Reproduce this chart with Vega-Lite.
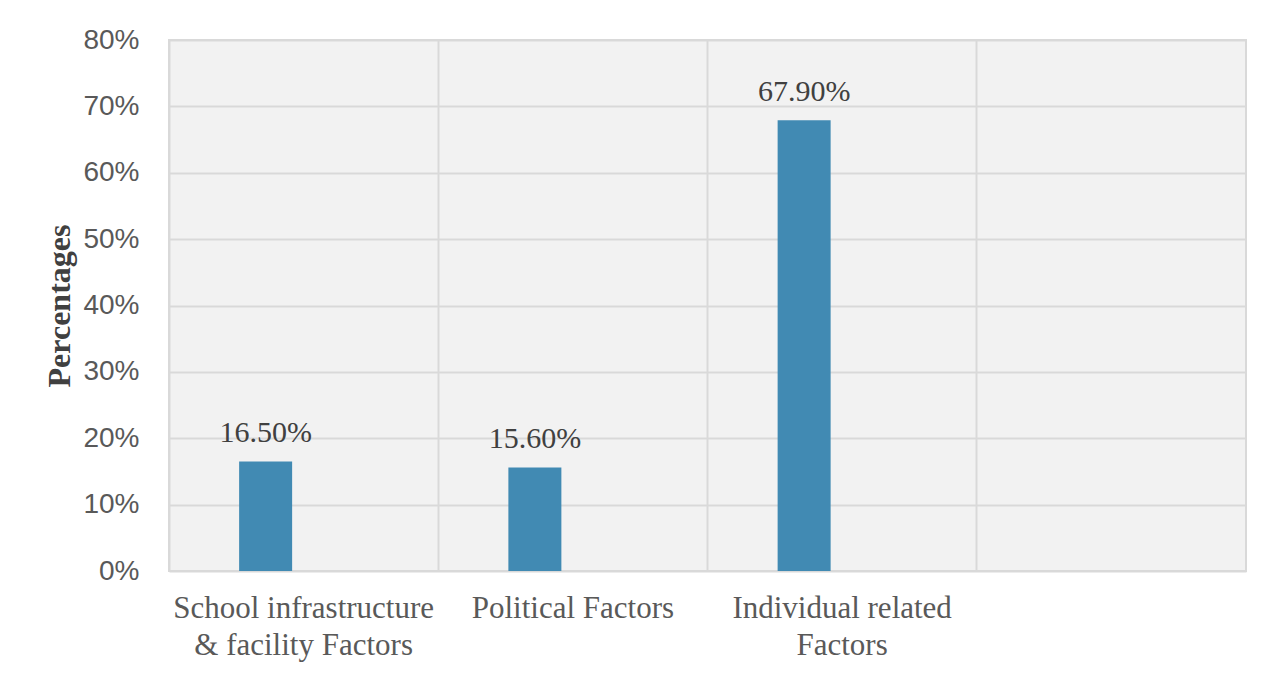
{
  "$schema": "https://vega.github.io/schema/vega-lite/v6.json",
  "autosize": "none",
  "width": 1077,
  "height": 531,
  "padding": {"left": 169, "top": 40, "right": 26, "bottom": 107},
  "background": "white",
  "config": {
    "view": {"fill": "#f2f2f2", "stroke": "#d9d9d9", "strokeWidth": 2},
    "axis": {"gridColor": "#d9d9d9", "gridWidth": 2, "gridOpacity": 1}
  },
  "data": {
    "values": [
      {"factor": "School infrastructure & facility Factors", "pct": 0.165, "label": "16.50%"},
      {"factor": "Political Factors", "pct": 0.156, "label": "15.60%"},
      {"factor": "Individual related Factors", "pct": 0.679, "label": "67.90%"}
    ]
  },
  "encoding": {
    "x": {
      "field": "factor",
      "type": "nominal",
      "sort": null,
      "scale": {
        "domain": ["School infrastructure & facility Factors", "Political Factors", "Individual related Factors", "blank"],
        "paddingInner": 0,
        "paddingOuter": 0
      },
      "axis": {
        "title": null,
        "labelAngle": 0,
        "labelFont": "Liberation Serif",
        "labelFontSize": 31,
        "labelColor": "#595959",
        "labelPadding": 22,
        "labelLineHeight": 37,
        "labelBaseline": "top",
        "labelLimit": 400,
        "ticks": false,
        "domain": false,
        "grid": true,
        "bandPosition": 0,
        "labelExpr": "datum.value == 'School infrastructure & facility Factors' ? ['School infrastructure', '& facility Factors'] : datum.value == 'Individual related Factors' ? ['Individual related', 'Factors'] : datum.value == 'blank' ? '' : datum.value"
      }
    },
    "y": {
      "field": "pct",
      "type": "quantitative",
      "scale": {"domain": [0, 0.8]},
      "axis": {
        "title": "Percentages",
        "titleFont": "Liberation Serif",
        "titleFontSize": 32,
        "titleFontWeight": "bold",
        "titleColor": "#404040",
        "titlePadding": 6,
        "format": ".0%",
        "values": [0, 0.1, 0.2, 0.3, 0.4, 0.5, 0.6, 0.7, 0.8],
        "labelFont": "Liberation Sans",
        "labelFontSize": 28,
        "labelColor": "#595959",
        "labelPadding": 30,
        "ticks": false,
        "domain": false,
        "grid": true
      }
    }
  },
  "layer": [
    {
      "mark": {"type": "bar", "color": "#418ab3", "width": 53, "xOffset": -38}
    },
    {
      "mark": {"type": "text", "font": "Liberation Serif", "fontSize": 30, "color": "#404040", "baseline": "alphabetic", "dy": -19, "xOffset": -38},
      "encoding": {"text": {"field": "label"}}
    }
  ]
}
